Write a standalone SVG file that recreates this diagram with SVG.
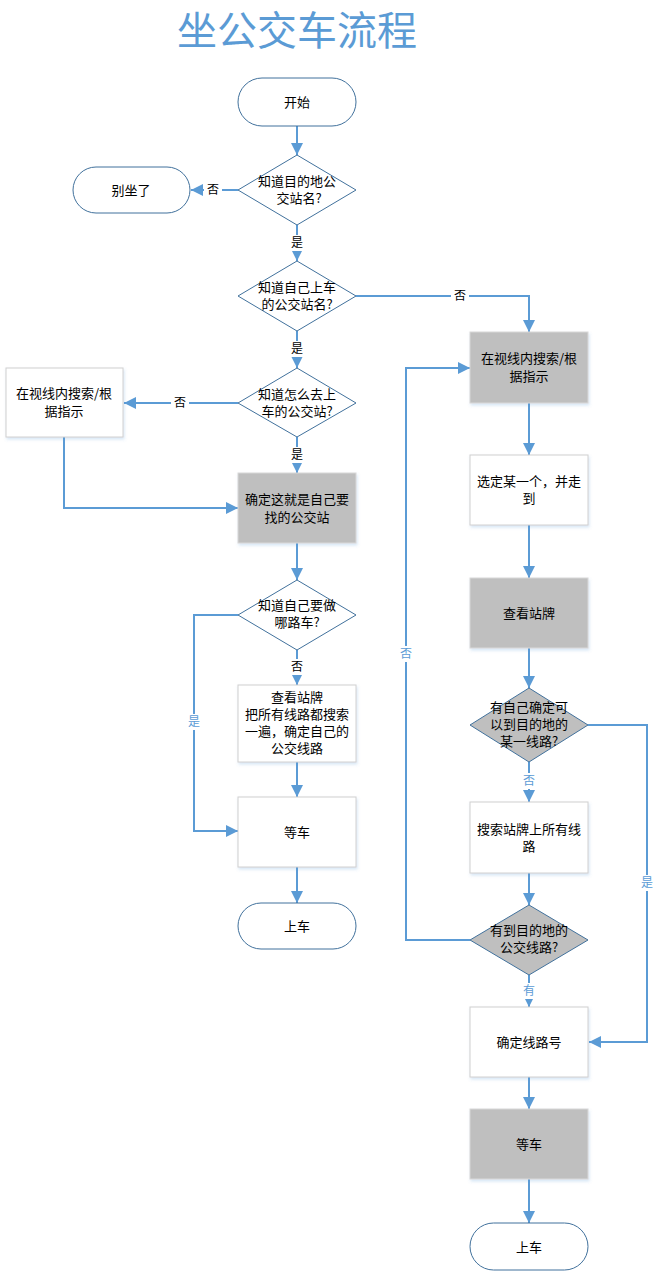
<svg xmlns="http://www.w3.org/2000/svg" width="661" height="1280" viewBox="0 0 661 1280">
<style>
.t{font-family:"Noto Sans CJK SC","Noto Sans",sans-serif;font-size:13px;fill:#000;text-anchor:middle}
.lb{font-family:"Noto Sans CJK SC","Noto Sans",sans-serif;font-size:12px;text-anchor:middle}
.k{fill:#000}
.b{fill:#5B9BD5}
.term{fill:#fff;stroke:#41719C;stroke-width:1}
.box{fill:#fff;stroke:#D0D0D0;stroke-width:1;filter:url(#sh)}
.gbox{fill:#BFBFBF;stroke:#D8D8D8;stroke-width:1;filter:url(#sh)}
.dia{fill:#fff;stroke:#41719C;stroke-width:1}
.gdia{fill:#BFBFBF;stroke:#41719C;stroke-width:1}
.c{fill:none;stroke:#5B9BD5;stroke-width:2;marker-end:url(#ah)}
.lbg{fill:#fff}
</style>
<defs>
<marker id="ah" markerUnits="userSpaceOnUse" markerWidth="14" markerHeight="14" refX="12" refY="7" orient="auto">
<path d="M0,1 L12,7 L0,13 Z" fill="#5B9BD5"/>
</marker>
<filter id="sh" x="-10%" y="-10%" width="125%" height="130%">
<feDropShadow dx="1" dy="2" stdDeviation="1.5" flood-color="#5B9BD5" flood-opacity="0.25"/>
</filter>
</defs>
<rect width="661" height="1280" fill="#fff"/>
<text x="297" y="45" font-family="'Noto Sans CJK SC','Noto Sans',sans-serif" font-size="40" fill="#5B9BD5" text-anchor="middle">坐公交车流程</text>

<g id="connectors">
<path class="c" d="M297,126 V155"/>
<path class="c" d="M238,190 H191"/>
<path class="c" d="M297,225 V261"/>
<path class="c" d="M356,296 H529 V332"/>
<path class="c" d="M297,331 V368"/>
<path class="c" d="M238,403 H124"/>
<path class="c" d="M297,437 V473"/>
<path class="c" d="M64,437 V508 H238"/>
<path class="c" d="M297,543 V580"/>
<path class="c" d="M297,650 V685"/>
<path class="c" d="M238,615 H194 V831 H238"/>
<path class="c" d="M297,762 V797"/>
<path class="c" d="M297,867 V903"/>
<path class="c" d="M529,403 V455"/>
<path class="c" d="M529,525 V578"/>
<path class="c" d="M529,648 V688"/>
<path class="c" d="M529,762 V802"/>
<path class="c" d="M588,725 H647 V1042 H589"/>
<path class="c" d="M529,873 V905"/>
<path class="c" d="M470,940 H406 V368 H470"/>
<path class="c" d="M529,975 V1007"/>
<path class="c" d="M529,1077 V1109"/>
<path class="c" d="M529,1179 V1223"/>
<rect class="lbg" x="204" y="182" width="18" height="16"/>
<text class="lb k" x="213" y="194">否</text>
<rect class="lbg" x="288" y="235" width="18" height="16"/>
<text class="lb k" x="297" y="247">是</text>
<rect class="lbg" x="451" y="288" width="18" height="16"/>
<text class="lb k" x="460" y="300">否</text>
<rect class="lbg" x="288" y="341" width="18" height="16"/>
<text class="lb k" x="297" y="353">是</text>
<rect class="lbg" x="171" y="395" width="18" height="16"/>
<text class="lb k" x="180" y="407">否</text>
<rect class="lbg" x="288" y="447" width="18" height="16"/>
<text class="lb k" x="297" y="459">是</text>
<rect class="lbg" x="288" y="659" width="18" height="16"/>
<text class="lb k" x="297" y="671">否</text>
<rect class="lbg" x="185" y="714" width="18" height="16"/>
<text class="lb b" x="194" y="726">是</text>
<rect class="lbg" x="520" y="773" width="18" height="16"/>
<text class="lb b" x="529" y="785">否</text>
<rect class="lbg" x="638" y="875" width="18" height="16"/>
<text class="lb b" x="647" y="887">是</text>
<rect class="lbg" x="397" y="646" width="18" height="16"/>
<text class="lb b" x="406" y="658">否</text>
<rect class="lbg" x="520" y="983" width="18" height="16"/>
<text class="lb b" x="529" y="995">有</text>
</g>

<g id="start"><rect class="term" x="238" y="78" width="118" height="48" rx="24"/><text class="t" x="297" y="107">开始</text></g>
<g id="q1"><polygon class="dia" points="297,155 356,190 297,225 238,190"/><text class="t" x="297" y="186">知道目的地公</text><text class="t" x="299" y="203">交站名?</text></g>
<g id="nogo"><rect class="term" x="73" y="167" width="117" height="46" rx="23"/><text class="t" x="131" y="195">别坐了</text></g>
<g id="q2"><polygon class="dia" points="297,261 356,296 297,331 238,296"/><text class="t" x="297" y="292">知道自己上车</text><text class="t" x="297" y="309">的公交站名?</text></g>
<g id="q3"><polygon class="dia" points="297,368 356,403 297,437 238,403"/><text class="t" x="297" y="399">知道怎么去上</text><text class="t" x="297" y="416">车的公交站?</text></g>
<g id="search1"><rect class="box" x="6" y="368" width="117" height="69"/><text class="t" x="64" y="398">在视线内搜索/根</text><text class="t" x="64" y="416">据指示</text></g>
<g id="confirm"><rect class="gbox" x="238" y="473" width="118" height="70"/><text class="t" x="297" y="504">确定这就是自己要</text><text class="t" x="297" y="522">找的公交站</text></g>
<g id="q4"><polygon class="dia" points="297,580 356,615 297,650 238,615"/><text class="t" x="297" y="610">知道自己要做</text><text class="t" x="297" y="627">哪路车?</text></g>
<g id="check1"><rect class="box" x="238" y="685" width="118" height="77"/><text class="t" x="297" y="702">查看站牌</text><text class="t" x="297" y="719">把所有线路都搜索</text><text class="t" x="297" y="736">一遍，确定自己的</text><text class="t" x="297" y="753">公交线路</text></g>
<g id="wait1"><rect class="box" x="238" y="797" width="118" height="70"/><text class="t" x="297" y="837">等车</text></g>
<g id="board1"><rect class="term" x="238" y="903" width="118" height="46" rx="23"/><text class="t" x="297" y="931">上车</text></g>

<g id="search2"><rect class="gbox" x="470" y="332" width="118" height="71"/><text class="t" x="529" y="363">在视线内搜索/根</text><text class="t" x="529" y="381">据指示</text></g>
<g id="pick"><rect class="box" x="470" y="455" width="118" height="70"/><text class="t" x="529" y="486">选定某一个，并走</text><text class="t" x="529" y="503">到</text></g>
<g id="check2"><rect class="gbox" x="470" y="578" width="118" height="70"/><text class="t" x="529" y="618">查看站牌</text></g>
<g id="q5"><polygon class="gdia" points="529,688 588,725 529,762 470,725"/><text class="t" x="529" y="712">有自己确定可</text><text class="t" x="529" y="729">以到目的地的</text><text class="t" x="529" y="746">某一线路?</text></g>
<g id="searchall"><rect class="box" x="470" y="802" width="118" height="71"/><text class="t" x="529" y="834">搜索站牌上所有线</text><text class="t" x="529" y="851">路</text></g>
<g id="q6"><polygon class="gdia" points="529,905 588,940 529,975 470,940"/><text class="t" x="529" y="935">有到目的地的</text><text class="t" x="529" y="952">公交线路?</text></g>
<g id="lineno"><rect class="box" x="470" y="1007" width="118" height="70"/><text class="t" x="529" y="1047">确定线路号</text></g>
<g id="wait2"><rect class="gbox" x="470" y="1109" width="118" height="70"/><text class="t" x="529" y="1149">等车</text></g>
<g id="board2"><rect class="term" x="470" y="1223" width="118" height="47" rx="23.5"/><text class="t" x="529" y="1252">上车</text></g>
</svg>
